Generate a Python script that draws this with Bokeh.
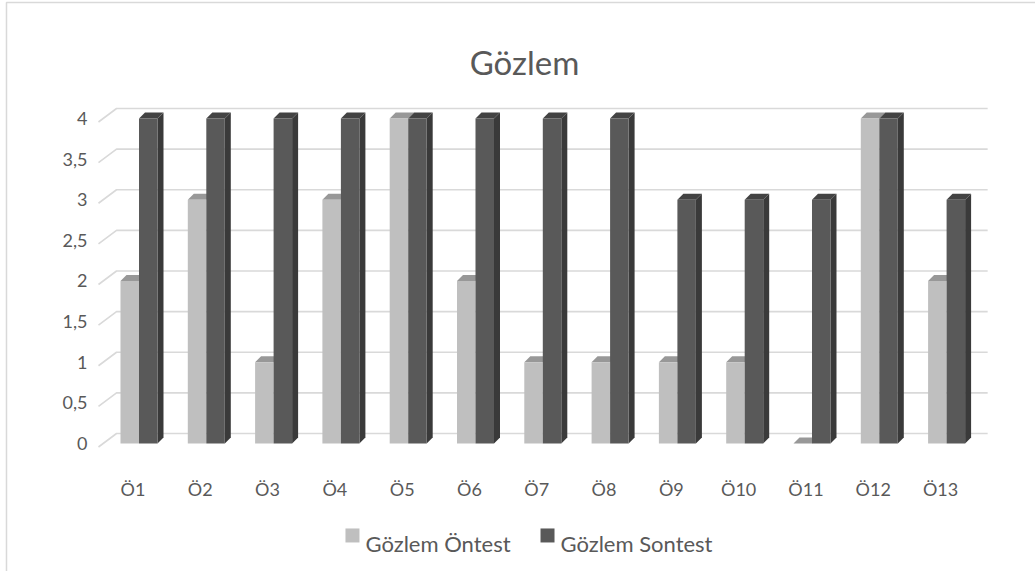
from bokeh.plotting import figure
from bokeh.models import Range1d, BoxAnnotation
from bokeh.core.properties import value
from bokeh.embed import file_html
from bokeh.resources import INLINE

# ---------------- data ----------------
categories = ["Ö1", "Ö2", "Ö3", "Ö4", "Ö5", "Ö6", "Ö7", "Ö8", "Ö9", "Ö10", "Ö11", "Ö12", "Ö13"]
ontest = [2, 3, 1, 3, 4, 2, 1, 1, 1, 1, 0, 4, 2]
sontest = [4, 4, 4, 4, 4, 4, 4, 4, 3, 3, 3, 4, 3]
y_ticks = [0, 0.5, 1, 1.5, 2, 2.5, 3, 3.5, 4]
y_tick_labels = ["0", "0,5", "1", "1,5", "2", "2,5", "3", "3,5", "4"]
series_names = ["Gözlem Öntest", "Gözlem Sontest"]
title_text = "Gözlem"

# ---------------- style ----------------
FONT = value("Lato")
TXT = "#595959"
LIGHT_FRONT, LIGHT_TOP = "#bfbfbf", "#989898"
DARK_FRONT, DARK_TOP, DARK_SIDE = "#595959", "#434343", "#3a3a3a"
GRID = "#d9d9d9"

BAR_W = 0.275          # width of one bar (category units)
DX, DY = 0.089, 0.074  # 3-D depth of bars
GX_FRONT, GX_BACK, GX_END = -0.602, -0.334, 12.61   # gridline floor/wall corners
GY_FRONT, GY_BACK = -0.043, 0.123

p = figure(width=1035, height=571,
           x_range=Range1d(-2.058, 13.321), y_range=Range1d(-1.5754, 5.4523),
           min_border=0,
           toolbar_location=None, output_backend="svg",
           x_axis_location=None, y_axis_location=None)
p.grid.visible = False
p.outline_line_color = None
p.background_fill_color = "white"
p.border_fill_color = "white"

# chart-area border (top and left visible; right/bottom lie outside the window)
p.add_layout(BoxAnnotation(left=-1.969, top=5.428, right=30, bottom=-30,
                           fill_color=None, fill_alpha=0,
                           line_color=GRID, line_alpha=1.0, line_width=1.5))

# gridlines (floor edge + back wall)
gxs = [[GX_FRONT, GX_BACK, GX_END] for v in y_ticks]
gys = [[v + GY_FRONT, v + GY_BACK, v + GY_BACK] for v in y_ticks]
p.multi_line(gxs, gys, line_color=GRID, line_width=1.6)

idx = list(range(len(categories)))

# light bars (Öntest)
l_left = [i - BAR_W for i in idx]
l_right = [i for i in idx]
p.patches([[l, r, r + DX, l + DX] for l, r in zip(l_left, l_right)],
          [[v, v, v + DY, v + DY] for v in ontest],
          fill_color=LIGHT_TOP, line_color=None)
p.quad(left=l_left, right=l_right, bottom=0, top=ontest,
       fill_color=LIGHT_FRONT, line_color=None)

# dark bars (Sontest)
d_left = [i for i in idx]
d_right = [i + BAR_W for i in idx]
p.patches([[r, r + DX, r + DX, r] for r in d_right],
          [[0, DY, v + DY, v] for v in sontest],
          fill_color=DARK_SIDE, line_color=None)
p.patches([[l, r, r + DX, l + DX] for l, r in zip(d_left, d_right)],
          [[v, v, v + DY, v + DY] for v in sontest],
          fill_color=DARK_TOP, line_color=None)
p.quad(left=d_left, right=d_right, bottom=0, top=sontest,
       fill_color=DARK_FRONT, line_color=None)

# y tick labels
p.text(x=[-0.765] * len(y_ticks), y=y_ticks, text=y_tick_labels,
       text_font=FONT, text_font_size="18px", text_color=TXT,
       text_align="right", text_baseline="middle")

# category labels
p.text(x=[i - 0.09 for i in idx], y=[-0.554] * len(idx), text=categories,
       text_font=FONT, text_font_size="18px", text_color=TXT,
       text_align="center", text_baseline="alphabetic")

# title
p.text(x=[5.728], y=[4.70], text=[title_text],
       text_font=FONT, text_font_size="33px", text_color=TXT,
       text_align="center", text_baseline="alphabetic")

# legend
p.scatter(x=[3.172, 6.070], y=[-1.132, -1.132], marker="square", size=14,
          fill_color=[LIGHT_FRONT, DARK_FRONT], line_color=None)
p.text(x=[3.366, 6.263], y=[-1.231, -1.231], text=series_names,
       text_font=FONT, text_font_size="22px", text_color=TXT,
       text_align="left", text_baseline="alphabetic")

open("out.html", "w").write(file_html(p, INLINE))
